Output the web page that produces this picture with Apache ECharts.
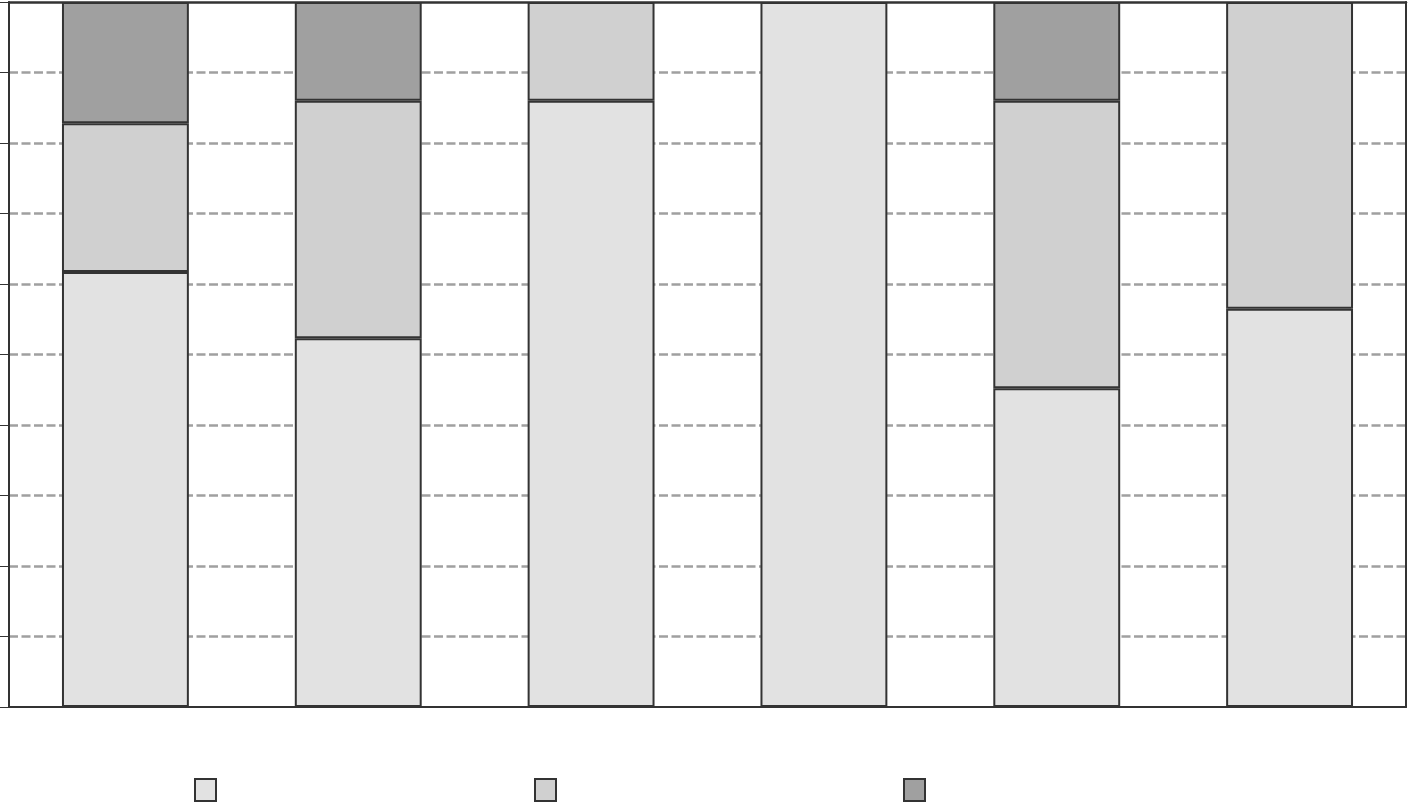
<!DOCTYPE html>
<html>
<head>
<meta charset="utf-8">
<script src="https://cdn.jsdelivr.net/npm/echarts@6/dist/echarts.min.js"></script>
<style>
  html, body { margin: 0; padding: 0; background: #fff; }
  #main { width: 1409px; height: 802px; }
</style>
</head>
<body>
<div id="main"></div>
<script>
  // six groups, shares in percent (bottom, middle, top); null = no segment
  const categories = ['1', '2', '3', '4', '5', '6'];
  const seriesNames = ['A', 'B', 'C'];
  const lowValues = [61.7, 52.3, 86.0, 100, 45.2, 56.5];
  const midValues = [21.1, 33.7, 14.0, null, 40.8, 43.5];
  const highValues = [17.2, 14.0, null, null, 14.0, null];
  const yTicks = [0, 10, 20, 30, 40, 50, 60, 70, 80, 90, 100];

  const colors = ['#e2e2e2', '#d0d0d0', '#a0a0a0'];
  const values = [lowValues, midValues, highValues];
  const legendLeft = [194, 534, 903];

  let chart = echarts.init(document.getElementById('main'));
  let option = {
    animation: false,
    grid: {
      left: 9, right: 3, top: 2, bottom: 95,
      show: false
    },
    legend: seriesNames.map(function (name, i) {
      return {
        data: [name],
        left: legendLeft[i],
        top: 778,
        padding: 0,
        icon: 'rect',
        itemWidth: 21,
        itemHeight: 22,
        itemGap: 0,
        formatter: function () { return ''; }
      };
    }),
    xAxis: [{
      type: 'category',
      data: categories,
      axisLine: { show: true, lineStyle: { color: '#333', width: 2 } },
      axisTick: { show: false },
      axisLabel: { show: false },
      splitLine: { show: false }
    }, {
      type: 'category',
      position: 'top',
      data: categories,
      axisLine: { show: true, onZero: false, lineStyle: { color: '#333', width: 2.5 } },
      axisTick: { show: false },
      axisLabel: { show: false },
      splitLine: { show: false }
    }],
    yAxis: [{
      type: 'value',
      min: yTicks[0],
      max: yTicks[yTicks.length - 1],
      interval: 10,
      axisLine: { show: true, lineStyle: { color: '#333', width: 2 } },
      axisTick: { show: true, length: 9, lineStyle: { color: '#333', width: 1 } },
      axisLabel: { show: false },
      splitLine: {
        show: true, showMinLine: false, showMaxLine: false,
        lineStyle: { color: '#a0a0a0', width: 2.5, type: [9, 3.5] }
      }
    }, {
      type: 'value',
      position: 'right',
      min: yTicks[0],
      max: yTicks[yTicks.length - 1],
      interval: 10,
      axisLine: { show: true, onZero: false, lineStyle: { color: '#333', width: 2 } },
      axisTick: { show: false },
      axisLabel: { show: false },
      splitLine: { show: false }
    }],
    series: seriesNames.map(function (name, i) {
      return {
        name: name,
        type: 'bar',
        stack: 'total',
        barWidth: '54.5%',
        data: values[i],
        itemStyle: { color: colors[i], borderColor: '#333', borderWidth: 2 }
      };
    })
  };
  chart.setOption(option);
</script>
</body>
</html>
